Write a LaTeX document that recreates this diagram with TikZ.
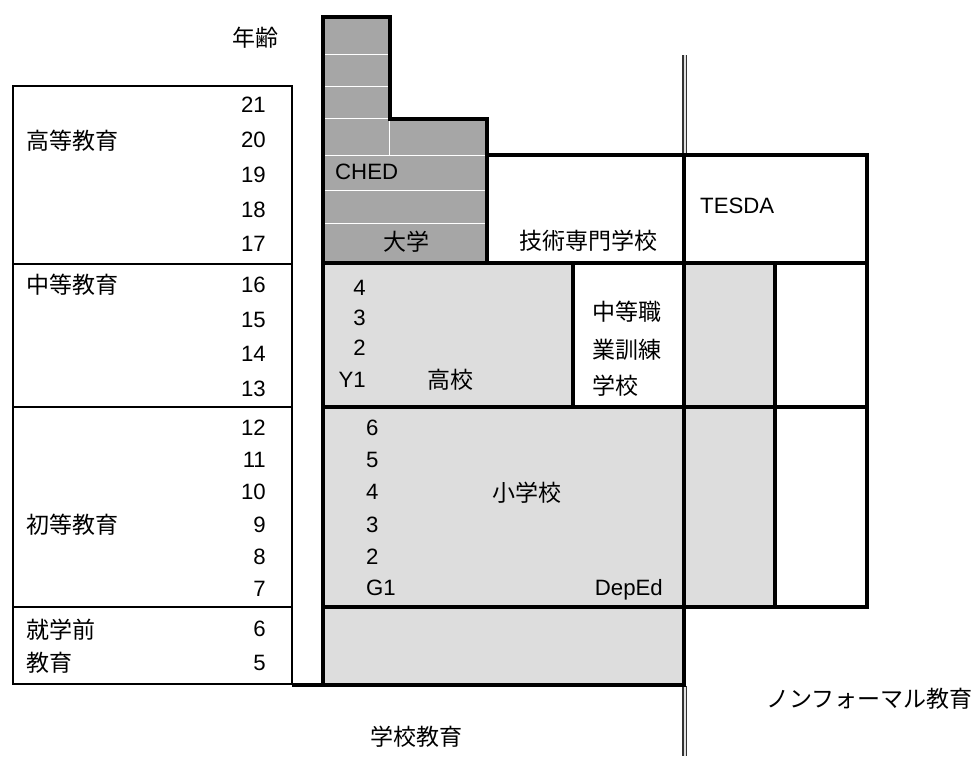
\documentclass[tikz,border=0pt]{standalone}
\usepackage{fontspec}
\setmainfont{Liberation Sans}
\newfontfamily\jp{Noto Sans CJK JP}
\definecolor{darkfill}{HTML}{A6A6A6}
\definecolor{lightfill}{HTML}{DDDDDD}
\begin{document}
\begin{tikzpicture}[x=1pt,y=-1pt,
  heavy/.style={line width=3.4pt, line join=miter},
  thinline/.style={line width=1.2pt},
  whiteline/.style={draw=white, line width=1pt},
  dbl/.style={draw=black!80, line width=1.8pt, double=black!12, double distance=2pt},
  lat/.style={font=\fontsize{22.2}{26}\selectfont, inner sep=0pt, text height=15.9pt, text depth=0pt},
  jpt/.style={font=\fontsize{23}{28}\selectfont\jp, inner sep=0pt, text height=19pt, text depth=1.5pt},
]
\useasboundingbox (0,0) rectangle (973,756);

% ---- left age table ----
\draw[thinline] (13,86) rectangle (292,684);
\draw[thinline] (13,264) -- (292,264);
\draw[thinline] (13,407) -- (292,407);
\draw[thinline] (13,607) -- (292,607);

% ---- fills ----
\fill[darkfill] (323,17) -- (390,17) -- (390,119) -- (487,119) -- (487,263) -- (323,263) -- cycle;
\fill[lightfill] (323,263) rectangle (573,407);
\fill[lightfill] (684,263) rectangle (775,407);
\fill[lightfill] (323,407) rectangle (684,607);
\fill[lightfill] (684,407) rectangle (775,607);
\fill[lightfill] (323,607) rectangle (684,685);

% ---- white lines inside university block ----
\draw[whiteline] (323,54) -- (390,54);
\draw[whiteline] (323,86) -- (390,86);
\draw[whiteline] (323,118) -- (390,118);
\draw[whiteline] (389,119) -- (389,155);
\draw[whiteline] (323,155) -- (487,155);
\draw[whiteline] (323,190) -- (487,190);
\draw[whiteline] (323,223) -- (487,223);

% ---- double lines ----
\coordinate (dtA) at (684.5,55);
\coordinate (dtB) at (684.5,155);
\coordinate (dbA) at (684.5,686);
\coordinate (dbB) at (684.5,756);
\draw[dbl] (dtA) -- (dtB);
\draw[dbl] (dbA) -- (dbB);

% ---- heavy borders ----
\draw[heavy] (323,17) -- (390,17) -- (390,119) -- (487,119) -- (487,263) -- (323,263) -- cycle;
\draw[heavy] (487,155) rectangle (684,263);
\draw[heavy] (684,155) rectangle (867,263);
\draw[heavy] (323,263) rectangle (573,407);
\draw[heavy] (573,263) rectangle (684,407);
\draw[heavy] (684,263) rectangle (775,407);
\draw[heavy] (775,263) rectangle (867,407);
\draw[heavy] (323,407) rectangle (684,607);
\draw[heavy] (684,407) rectangle (775,607);
\draw[heavy] (775,407) rectangle (867,607);
\draw[heavy] (323,607) rectangle (684,685);
\coordinate (tblcorner) at (292,685);
\coordinate (preleft) at (323,685);
\draw[heavy] (tblcorner) -- (preleft);

% ---- table texts ----
\node[jpt] (age) at (255,38) {年齢};
\node[jpt, anchor=west] (koto) at (26,141) {高等教育};
\node[jpt, anchor=west] (chuto) at (26,285) {中等教育};
\node[jpt, anchor=west] (shoto) at (26,525) {初等教育};
\node[jpt, anchor=west] (shugaku) at (26,630) {就学前};
\node[jpt, anchor=west] (kyoiku) at (26,663) {教育};
\foreach \a/\y in {21/105,20/140,19/175,18/210,17/244,16/285,15/320,14/354,13/389,12/428,11/460,10/492,9/525,8/557,7/589,6/629,5/663}
  \node[lat, anchor=east] (n\a) at (266,\y) {\a};

% ---- university ----
\node[lat, anchor=west] (ched) at (335,172) {CHED};
\node[jpt] (daigaku) at (406,242) {大学};
\node[jpt] (gijutsu) at (588,241) {技術専門学校};
\node[lat, anchor=west] (tesda) at (700,206) {TESDA};

% ---- high school ----
\node[lat, anchor=east] (h4) at (366,288) {4};
\node[lat, anchor=east] (h3) at (366,318) {3};
\node[lat, anchor=east] (h2) at (366,348) {2};
\node[lat, anchor=east] (hy1) at (366,380) {Y1};
\node[jpt] (koko) at (450,380) {高校};
\node[jpt, anchor=west] (voc1) at (592,312) {中等職};
\node[jpt, anchor=west] (voc2) at (592,350) {業訓練};
\node[jpt, anchor=west] (voc3) at (592,386) {学校};

% ---- primary ----
\node[lat, anchor=west] (p6) at (366,428) {6};
\node[lat, anchor=west] (p5) at (366,460) {5};
\node[lat, anchor=west] (p4) at (366,492) {4};
\node[lat, anchor=west] (p3) at (366,525) {3};
\node[lat, anchor=west] (p2) at (366,557) {2};
\node[lat, anchor=west] (pg1) at (366,588) {G1};
\node[jpt] (shogakko) at (527,493) {小学校};
\node[lat, anchor=east] (deped) at (663,588) {DepEd};

% ---- bottom captions ----
\node[jpt] (gakko) at (416,737) {学校教育};
\node[jpt, anchor=east] (nonformal) at (973,699) {ノンフォーマル教育};
\end{tikzpicture}
\end{document}
